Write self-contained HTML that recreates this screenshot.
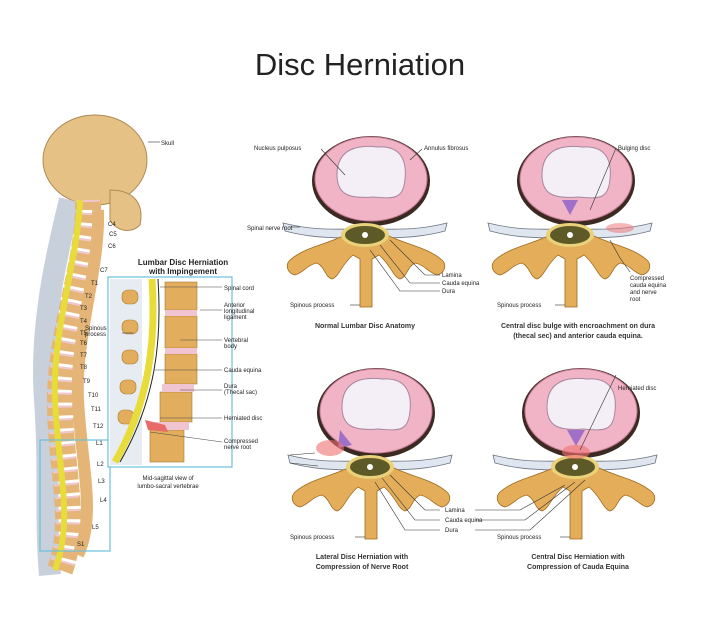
<!DOCTYPE html>
<html><head><meta charset="utf-8"><style>
html,body{margin:0;padding:0;background:#fff;}
svg{display:block;}
text{font-family:"Liberation Sans",sans-serif;fill:#222;}
.l{font-size:6px;}
.c{font-size:7px;font-weight:bold;text-anchor:middle;fill:#333;}
</style></head><body>
<svg width="720" height="624" viewBox="0 0 720 624" xmlns="http://www.w3.org/2000/svg">
<defs>
<g id="v">
  <!-- disc -->
  <ellipse cx="6" cy="-54" rx="59" ry="45" fill="#3a2a22"/>
  <ellipse cx="6" cy="-56" rx="56" ry="42" fill="#f0b4c6" stroke="#c77a92" stroke-width="1"/>
  <path d="M-28,-60 C-28,-88 -5,-90 12,-88 C36,-90 42,-74 40,-56 C38,-36 30,-36 8,-38 C-15,-36 -28,-40 -28,-60 Z" fill="#f4eef6" stroke="#a9869e" stroke-width="1"/>
  <!-- nerve band -->
  <path d="M-82,-12 C-50,-4 -30,-6 0,-6 C30,-6 50,-4 82,-12 L80,-4 C50,4 30,2 0,4 C-30,2 -50,4 -80,-4 Z" fill="#dfe6ef" stroke="#6b7480" stroke-width="0.8"/>
  <!-- bone -->
  <path d="M-20,0 C-40,10 -60,12 -75,25 C-80,30 -78,38 -70,40 C-62,38 -58,30 -48,28 C-40,32 -40,42 -33,44 C-26,42 -24,30 -12,20 L-5,24 L-5,72 L7,72 L7,24 L14,20 C26,30 28,42 35,44 C42,42 42,32 50,28 C60,30 64,38 72,40 C80,38 82,30 77,25 C62,12 42,10 22,0 Z" fill="#e3ad5a" stroke="#a06a20" stroke-width="0.8"/>
  <!-- cord -->
  <ellipse cx="0" cy="0" rx="24" ry="12" fill="#e9d27a"/>
  <ellipse cx="0" cy="0" rx="20" ry="9" fill="#5e5a28"/>
  <circle cx="0" cy="0" r="3" fill="#fff"/>
</g>
</defs>

<text x="360" y="75" font-size="31" text-anchor="middle" style="fill:#222">Disc Herniation</text>

<!-- spine left -->
<ellipse cx="95" cy="160" rx="52" ry="45" fill="#e6c186" stroke="#b08a50"/>
<path d="M110,190 C130,190 145,200 140,225 C130,235 115,230 110,220 Z" fill="#e6c186" stroke="#b08a50"/>
<path d="M70,200 C55,260 40,330 45,400 C50,470 45,520 50,575" fill="none" stroke="#c8d0dc" stroke-width="22"/>
<path d="M88,200 C90,260 60,330 60,400 C60,470 78,520 60,570" fill="none" stroke="#e4b576" stroke-width="26" stroke-dasharray="10 3"/>
<path d="M88,200 C90,260 60,330 60,400 C60,470 78,520 60,570" fill="none" stroke="#f0c6cf" stroke-width="24" stroke-dasharray="2 11"/>
<path d="M80,200 C78,260 52,330 55,400 C58,470 74,520 55,570" fill="none" stroke="#e8dc3a" stroke-width="6"/>
<path d="M98,210 C100,270 75,335 78,400 C82,470 96,515 78,555" fill="none" stroke="#e4b576" stroke-width="12"/>
<line x1="148" y1="142" x2="160" y2="142" stroke="#333" stroke-width="0.6"/>
<text class="l" x="161" y="145">Skull</text>
<g class="l">
<text x="108" y="226">C4</text><text x="109" y="236">C5</text><text x="108" y="248">C6</text><text x="100" y="272">C7</text>
<text x="91" y="285">T1</text><text x="85" y="298">T2</text><text x="80" y="310">T3</text><text x="80" y="323">T4</text><text x="80" y="335">T5</text><text x="80" y="345">T6</text><text x="80" y="357">T7</text><text x="80" y="369">T8</text><text x="83" y="383">T9</text><text x="88" y="397">T10</text><text x="91" y="411">T11</text><text x="93" y="428">T12</text>
<text x="96" y="445">L1</text><text x="97" y="466">L2</text><text x="98" y="483">L3</text><text x="100" y="502">L4</text><text x="92" y="529">L5</text><text x="77" y="546">S1</text>
</g>
<rect x="40" y="440" width="70" height="111" fill="none" stroke="#6cc0d8" stroke-width="1.2"/>
<text x="183" y="265" font-size="8" font-weight="bold" text-anchor="middle">Lumbar Disc Herniation</text>
<text x="183" y="274" font-size="8" font-weight="bold" text-anchor="middle">with Impingement</text>
<rect x="108" y="277" width="124" height="190" fill="#fff" stroke="#6cc0d8" stroke-width="1.2"/>
<rect x="110" y="279" width="32" height="186" fill="#e6ecf2"/>
<g fill="#e2ae5e" stroke="#a87a30" stroke-width="0.6">
<rect x="122" y="290" width="16" height="14" rx="6"/><rect x="122" y="320" width="16" height="14" rx="6"/><rect x="122" y="350" width="16" height="14" rx="6"/><rect x="120" y="380" width="16" height="14" rx="6"/><rect x="118" y="410" width="16" height="14" rx="6"/>
<rect x="165" y="282" width="32" height="28"/><rect x="165" y="316" width="32" height="32"/><rect x="165" y="354" width="32" height="30"/><rect x="160" y="392" width="32" height="30"/><rect x="150" y="430" width="34" height="32"/>
</g>
<g fill="#f0c4d0"><rect x="165" y="310" width="32" height="6"/><rect x="165" y="348" width="32" height="6"/><rect x="162" y="384" width="32" height="8"/><rect x="155" y="422" width="34" height="8"/></g>
<path d="M145,420 L165,425 L168,432 L148,430 Z" fill="#e86a6a"/>
<path d="M152,279 C156,340 150,400 115,462" fill="none" stroke="#e8dc3a" stroke-width="7"/>
<path d="M158,279 C162,340 156,400 120,462" fill="none" stroke="#222" stroke-width="1"/>
<g stroke="#444" stroke-width="0.6">
<line x1="160" y1="287" x2="222" y2="287"/><line x1="200" y1="310" x2="222" y2="310"/><line x1="180" y1="340" x2="222" y2="340"/><line x1="155" y1="370" x2="222" y2="370"/><line x1="180" y1="390" x2="222" y2="390"/><line x1="160" y1="418" x2="222" y2="418"/><line x1="150" y1="432" x2="222" y2="442"/><line x1="133" y1="333" x2="122" y2="333"/>
</g>
<g class="l">
<text x="224" y="290">Spinal cord</text><text x="224" y="307">Anterior</text><text x="224" y="313">longitudinal</text><text x="224" y="319">ligament</text>
<text x="224" y="342">Vertebral</text><text x="224" y="348">body</text><text x="224" y="372">Cauda equina</text><text x="224" y="388">Dura</text><text x="224" y="394">(Thecal sac)</text>
<text x="224" y="420">Herniated disc</text><text x="224" y="443">Compressed</text><text x="224" y="449">nerve root</text>
<text x="85" y="330">Spinous</text><text x="85" y="336">process</text>
</g>
<text class="l" x="168" y="480" text-anchor="middle">Mid-sagittal view of</text>
<text class="l" x="168" y="488" text-anchor="middle">lumbo-sacral vertebrae</text>

<!-- discs -->
<use href="#v" x="365" y="235"/>
<use href="#v" x="570" y="235"/>
<use href="#v" x="370" y="467"/>
<use href="#v" x="575" y="467"/>
<path d="M578,200 L570,215 L562,200 Z" fill="#a070c8"/>
<path d="M340,430 L352,445 L338,448 Z" fill="#a070c8"/>
<path d="M585,430 L576,446 L567,430 Z" fill="#a070c8"/>
<ellipse cx="330" cy="448" rx="14" ry="8" fill="#f07070" opacity="0.6"/>
<ellipse cx="576" cy="452" rx="14" ry="7" fill="#f07070" opacity="0.6"/>
<ellipse cx="620" cy="228" rx="14" ry="5" fill="#f07070" opacity="0.5"/>

<!-- top-left labels -->
<g stroke="#333" stroke-width="0.6" fill="none">
<line x1="321" y1="149" x2="345" y2="175"/><line x1="422" y1="149" x2="410" y2="160"/><line x1="290" y1="227" x2="300" y2="227"/>
<polyline points="390,240 425,275 440,275"/><polyline points="380,245 410,283 440,283"/><polyline points="370,250 400,291 440,291"/>
<line x1="350" y1="305" x2="360" y2="305"/>
<polyline points="616,148 590,210"/><polyline points="630,272 620,258 610,240"/>
<line x1="555" y1="305" x2="565" y2="305"/>
<polyline points="290,455 315,453"/><polyline points="290,463 318,466"/>
<polyline points="390,475 425,510 440,510"/><polyline points="382,478 415,520 440,520"/><polyline points="375,482 405,530 440,530"/>
<polyline points="475,510 520,510 565,485"/><polyline points="475,520 525,520 575,482"/><polyline points="475,530 530,530 585,480"/>
<polyline points="616,375 580,450"/>
<line x1="355" y1="537" x2="365" y2="537"/><line x1="560" y1="537" x2="570" y2="537"/>
</g>
<g class="l">
<text x="254" y="150">Nucleus pulposus</text><text x="424" y="150">Annulus fibrosus</text>
<text x="247" y="230">Spinal nerve root</text>
<text x="442" y="277">Lamina</text><text x="442" y="285">Cauda equina</text><text x="442" y="293">Dura</text>
<text x="290" y="307">Spinous process</text>
<text x="618" y="150">Bulging disc</text>
<text x="630" y="280">Compressed</text><text x="630" y="287">cauda equina</text><text x="630" y="294">and nerve</text><text x="630" y="301">root</text>
<text x="497" y="307">Spinous process</text>
<text x="445" y="512">Lamina</text><text x="445" y="522">Cauda equina</text><text x="445" y="532">Dura</text>
<text x="618" y="390">Herniated disc</text>
<text x="290" y="539">Spinous process</text><text x="497" y="539">Spinous process</text>
</g>
<text class="c" x="365" y="328">Normal Lumbar Disc Anatomy</text>
<text class="c" x="578" y="328">Central disc bulge with encroachment on dura</text>
<text class="c" x="578" y="338">(thecal sec) and anterior cauda equina.</text>
<text class="c" x="362" y="559">Lateral Disc Herniation with</text>
<text class="c" x="362" y="569">Compression of Nerve Root</text>
<text class="c" x="578" y="559">Central Disc Herniation with</text>
<text class="c" x="578" y="569">Compression of Cauda Equina</text>
</svg>
</body></html>
